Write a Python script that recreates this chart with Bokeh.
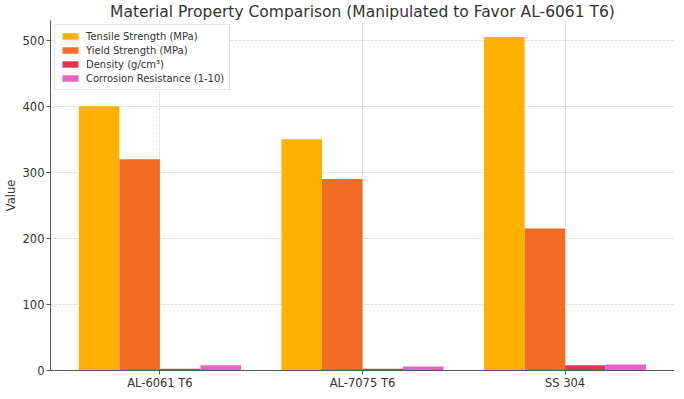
from bokeh.plotting import figure
from bokeh.models import ColumnDataSource, Range1d, FixedTicker, Legend, LegendItem
from bokeh.transform import dodge
from bokeh.embed import file_html
from bokeh.resources import INLINE

categories = ["AL-6061 T6", "AL-7075 T6", "SS 304"]
tensile = [400, 350, 505]
yield_strength = [320, 290, 215]
density = [2.7, 2.81, 8.0]
corrosion = [8, 6, 9]

series_names = ["Tensile Strength (MPa)", "Yield Strength (MPa)", "Density (g/cm³)", "Corrosion Resistance (1-10)"]
series_keys = ["tensile", "yield", "density", "corrosion"]
colors = ["#FFB000", "#F26B23", "#DF3551", "#E862C3"]
offsets = [-0.3, -0.1, 0.1, 0.3]
y_ticks = [0, 100, 200, 300, 400, 500]

source = ColumnDataSource(dict(
    x=list(range(len(categories))),
    tensile=tensile,
    density=density,
    corrosion=corrosion,
))
source.data["yield"] = yield_strength

FONT = "DejaVu Sans"

p = figure(frame_width=624, frame_height=350, output_backend="svg", toolbar_location=None,
           x_range=Range1d(-0.54, 2.54), y_range=Range1d(0, 530),
           title="Material Property Comparison (Manipulated to Favor AL-6061 T6)",
           min_border_left=30, min_border_right=0, min_border_top=0, min_border_bottom=0)
p.min_border = 0
p.min_border_left = 30

p.title.text_font = FONT
p.title.text_font_size = "15.5px"
p.title.text_font_style = "normal"
p.title.text_color = "#333333"
p.title.align = "center"
p.title.standoff = 0
p.title.offset = 0

items = []
for key, name, col, off in zip(series_keys, series_names, colors, offsets):
    r = p.vbar(x=dodge("x", off, range=p.x_range), top=key, width=0.2, bottom=0,
               source=source, fill_color=col, line_color=None)
    items.append(LegendItem(label=name, renderers=[r]))

legend = Legend(items=items, location="top_left")
legend.label_text_font = FONT
legend.label_text_font_size = "10px"
legend.label_text_color = "#333333"
legend.glyph_width = 20
legend.glyph_height = 8
legend.label_height = 12
legend.spacing = 2
legend.padding = 5
legend.margin = 4
legend.label_standoff = 6
legend.border_line_color = "#CCCCCC"
legend.border_line_width = 1
legend.background_fill_alpha = 0.9
p.add_layout(legend, "center")

p.xaxis.ticker = FixedTicker(ticks=list(range(len(categories))))
p.xaxis.major_label_overrides = {i: c for i, c in enumerate(categories)}
p.yaxis.ticker = FixedTicker(ticks=y_ticks)
p.yaxis.axis_label = "Value"

for ax in (p.xaxis, p.yaxis):
    ax.axis_line_color = "#555555"
    ax.major_tick_line_color = "#555555"
    ax.major_tick_out = 4
    ax.major_tick_in = 0
    ax.minor_tick_line_color = None
    ax.major_label_text_font = FONT
    ax.major_label_text_font_size = "11.5px"
    ax.major_label_text_color = "#333333"
    ax.axis_label_text_font = FONT
    ax.axis_label_text_font_size = "11.5px"
    ax.axis_label_text_font_style = "normal"
    ax.axis_label_text_color = "#333333"
p.yaxis.axis_label_standoff = 2
p.yaxis.major_label_standoff = 2
p.xaxis.major_label_standoff = 1

p.xgrid.ticker = FixedTicker(ticks=list(range(len(categories))))
p.ygrid.ticker = FixedTicker(ticks=y_ticks)
for g in (p.xgrid, p.ygrid):
    g.grid_line_color = "#DDDDDD"
    g.grid_line_dash = "3 1"
    g.grid_line_width = 1

p.outline_line_color = None
p.background_fill_color = "white"

open("out.html", "w").write(file_html(p, INLINE))
